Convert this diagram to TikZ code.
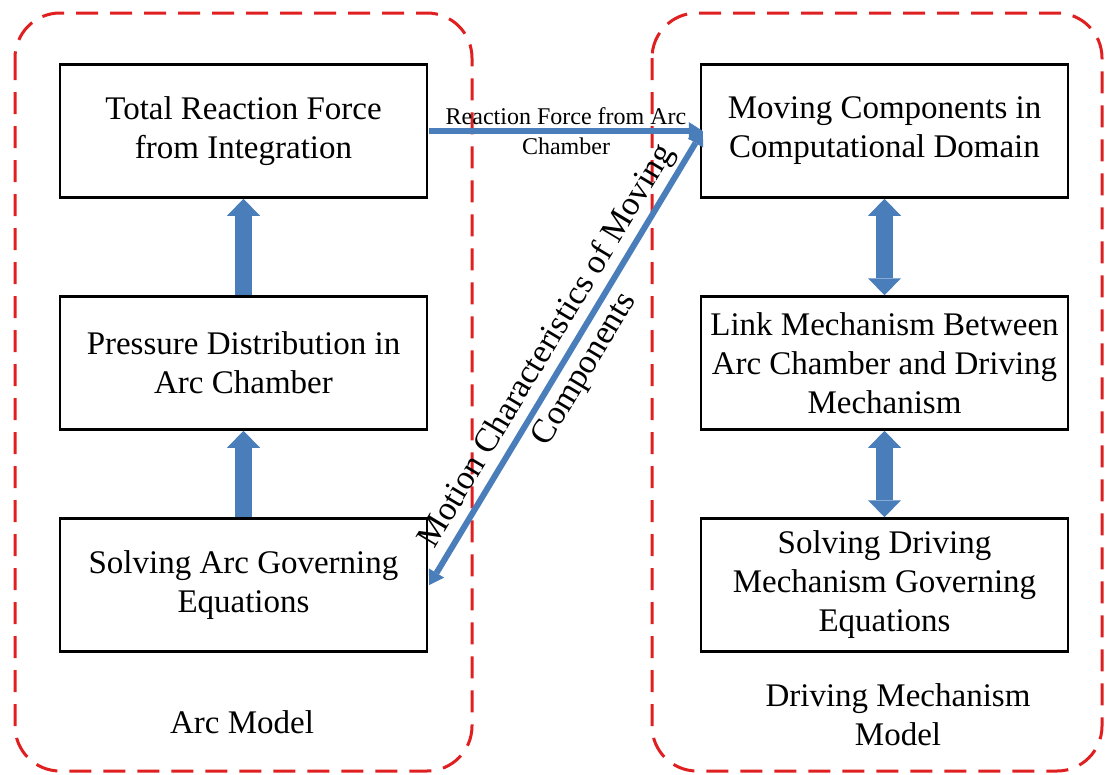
\documentclass[tikz,border=0pt]{standalone}
\usepackage{fontspec}
\setmainfont{Liberation Serif}
\usetikzlibrary{arrows.meta}
\definecolor{arrowblue}{RGB}{74,126,187}
\definecolor{boxred}{RGB}{224,32,32}
\tikzset{
  fattip/.tip={Triangle[length=17pt,width=33pt,line width=0pt]},
  tinytip/.tip={Triangle[length=14pt,width=18pt,line width=0pt]},
  procbox/.style={draw=black, line width=2.5pt, minimum width=367pt, minimum height=133pt,
    align=center, inner sep=0pt, font=\fontsize{33}{39}\selectfont},
  container/.style={draw=boxred, line width=3pt, dash pattern=on 22pt off 12pt, rounded corners=45pt},
  fatarrow/.style={draw=arrowblue, line width=17pt, -{fattip}},
  fatdouble/.style={draw=arrowblue, line width=17pt, {fattip}-{fattip}},
  thinarrow/.style={draw=arrowblue, line width=6pt},
  lbl/.style={font=\fontsize{33}{39}\selectfont, align=center},
}
\begin{document}
\begin{tikzpicture}[x=1pt,y=-1pt]
\useasboundingbox (0,0) rectangle (1105,774);
% containers
\draw[container] (15,13) rectangle (472,771);
\draw[container] (652,13) rectangle (1102,771);
% boxes
\node[procbox] (L1) at (243.5,131) {Total Reaction Force\\from Integration};
\node[procbox] (L2) at (243.5,363) {Pressure Distribution in\\Arc Chamber};
\node[procbox] (L3) at (243.5,585) {Solving Arc Governing\\Equations};
\node[procbox] (R1) at (884.5,131) {Moving Components in\\Computational Domain};
\node[procbox] (R2) at (884.5,363) {Link Mechanism Between\\Arc Chamber and Driving\\Mechanism};
\node[procbox] (R3) at (884.5,585) {Solving Driving\\Mechanism Governing\\Equations};
% container labels
\node[lbl] (arcmodel) at (242,722) {Arc Model};
\node[lbl] (drvmodel) at (898,715) {Driving Mechanism\\Model};
% fat arrows
\draw[fatarrow] (L3.north) -- (L2.south);
\draw[fatarrow] (L2.north) -- (L1.south);
\draw[fatdouble] (R1.south) -- (R2.north);
\draw[fatdouble] (R2.south) -- (R3.north);
% connecting arrows
\draw[thinarrow, -{tinytip}] ([xshift=1pt]L1.east) -- ([xshift=3pt]R1.west)
  node[midway, align=center, font=\fontsize{24}{30}\selectfont] (rflabel) {Reaction Force from Arc\\Chamber};
\draw[thinarrow, {tinytip}-{tinytip}] ([xshift=3pt]R1.west) -- ([xshift=1pt]L3.east)
  node[midway, sloped, align=center, font=\fontsize{34}{44}\selectfont] (mclabel) {Motion Characteristics of Moving\\Components};
\end{tikzpicture}
\end{document}
